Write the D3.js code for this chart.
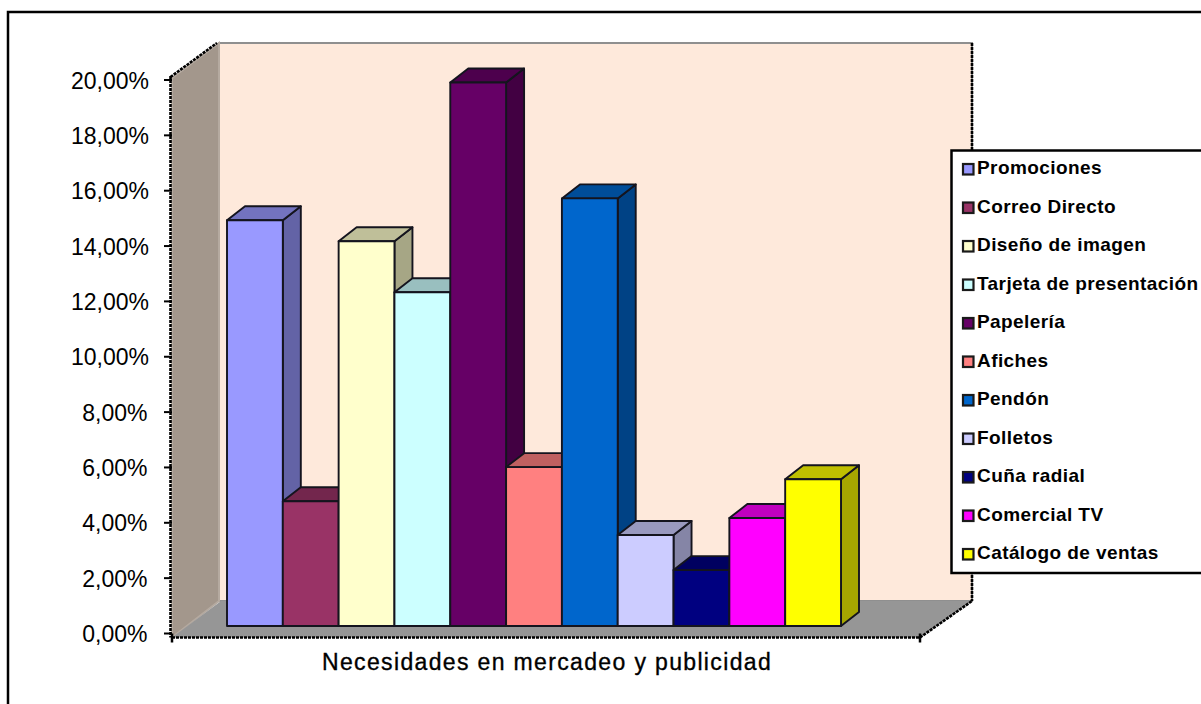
<!DOCTYPE html>
<html>
<head>
<meta charset="utf-8">
<script src="https://cdn.jsdelivr.net/npm/d3@7"></script>
<style>
html,body{margin:0;padding:0;background:#fff}
svg{display:block}
text{font-family:"Liberation Sans",Arial,sans-serif;fill:#000}
</style>
</head>
<body>
<svg id="chart" width="1201" height="704"></svg>
<script>
// Share of each marketing and advertising need, in percent
const categories = ["Promociones","Correo Directo","Diseño de imagen","Tarjeta de presentación","Papelería","Afiches","Pendón","Folletos","Cuña radial","Comercial TV","Catálogo de ventas"];
const shares = [14.66,4.51,13.9,12.06,19.64,5.74,15.45,3.29,2.02,3.9,5.3];
const barColors = ["#9999FF","#993366","#FFFFCC","#CCFFFF","#660066","#FF8080","#0066CC","#CCCCFF","#000080","#FF00FF","#FFFF00"];
const yTicks = [0,2,4,6,8,10,12,14,16,18,20];
const axisTitle = "Necesidades en mercadeo y publicidad";

const svg = d3.select("#chart");
const shade = (c, k) => { const r = d3.rgb(c); return d3.rgb(r.r*k, r.g*k, r.b*k).formatHex(); };
const fmtTick = v => v.toFixed(2).replace(".", ",") + "%";

// Oblique projection: the front plane of the box, and the shift to its back plane
const y = d3.scaleLinear().domain([0,20]).range([633.5,80]);
const frontLeft = 172, frontRight = 920, floorFront = 637.5;
const wallTop = 43, wallBottom = 601;
const x = d3.scaleBand().domain(categories).range([227,841]);
const barShift = -7.5;            // bars stand a little behind the front plane
const depthX = 18, depthY = -14;  // extrusion of each bar

// Outer frame
svg.append("rect").attr("x",8).attr("y",12).attr("width",1300).attr("height",800)
  .attr("fill","#fff").attr("stroke","#000").attr("stroke-width",2.5);

// Walls and floor
const wallRight = 972;
const poly = (pts, fill, stroke) => svg.append("polygon")
  .attr("points", pts.map(p => p.join(",")).join(" ")).attr("fill", fill)
  .attr("stroke", stroke || "none").attr("stroke-width", 2);
poly([[219,wallTop],[wallRight,wallTop],[wallRight,wallBottom],[219,wallBottom]], "#FEE9DB", "#8f8f8f");
poly([[frontLeft,78],[219,wallTop],[219,wallBottom],[frontLeft,floorFront]], "#A3978C", "#b5aaa0");
poly([[frontLeft,floorFront],[221,wallBottom],[wallRight,wallBottom],[frontRight,floorFront]], "#969696");

// Dotted box edges
const edge = (x1,y1,x2,y2) => svg.append("line").attr("x1",x1).attr("y1",y1).attr("x2",x2).attr("y2",y2)
  .attr("stroke","#000").attr("stroke-width",2.6).attr("stroke-dasharray","3 1");
edge(170.5,76,170.5,floorFront);
edge(170.5,77,217,wallTop);
edge(frontLeft,floorFront,frontRight,floorFront);
edge(frontRight,floorFront,wallRight,wallBottom);
edge(wallRight,wallTop,wallRight,wallBottom);

// Value axis
const yAxis = svg.append("g");
yAxis.selectAll("line").data(yTicks).join("line")
  .attr("x1",164).attr("x2",frontLeft).attr("y1",d=>y(d)).attr("y2",d=>y(d))
  .attr("stroke","#000").attr("stroke-width",2);
yAxis.selectAll("text").data(yTicks).join("text")
  .attr("x",d=>d>=10?149:147.5).attr("y",d=>y(d)+8.5).attr("text-anchor","end").attr("font-size",23)
  .text(fmtTick);
[frontLeft,frontRight].forEach(px => svg.append("line")
  .attr("x1",px).attr("x2",px).attr("y1",floorFront-4).attr("y2",floorFront+5)
  .attr("stroke","#000").attr("stroke-width",2.5));

// Bars, painted left to right so each one overlaps the side of its neighbour
const bars = svg.append("g").attr("stroke","#14141e").attr("stroke-width",1.9).attr("stroke-linejoin","round");
categories.forEach((c,i) => {
  const x0 = x(c), x1 = x0 + x.bandwidth();
  const top = y(shares[i]) + barShift, base = y(0) + barShift;
  const g = bars.append("g");
  const pts = a => a.map(p => p.join(",")).join(" ");
  g.append("polygon").attr("fill",shade(barColors[i],0.65))
    .attr("points",pts([[x1,top],[x1+depthX,top+depthY],[x1+depthX,base+depthY],[x1,base]]));
  g.append("polygon").attr("fill",shade(barColors[i],0.75))
    .attr("points",pts([[x0,top],[x0+depthX,top+depthY],[x1+depthX,top+depthY],[x1,top]]));
  g.append("rect").attr("x",x0).attr("y",top).attr("width",x.bandwidth()).attr("height",base-top)
    .attr("fill",barColors[i]);
});

// Axis title
svg.append("text").attr("x",322).attr("y",669.5)
  .attr("font-size",23).attr("letter-spacing",1.35)
  .attr("stroke","#000").attr("stroke-width",0.35).text(axisTitle);

// Legend
svg.append("rect").attr("x",951.5).attr("y",150.5).attr("width",300).attr("height",422.5)
  .attr("fill","#fff").attr("stroke","#000").attr("stroke-width",2.5);
const rowY = d3.scaleLinear().domain([0,categories.length-1]).range([168,553]);
const rows = svg.append("g").selectAll("g").data(categories).join("g")
  .attr("transform",(d,i)=>`translate(0,${rowY(i)})`);
rows.append("rect").attr("x",963).attr("y",-4).attr("width",10.5).attr("height",10.5)
  .attr("fill",(d,i)=>barColors[i]).attr("stroke","#1a1a1a").attr("stroke-width",2.2);
rows.append("text").attr("x",977).attr("y",6.3).attr("font-size",19).attr("font-weight","bold")
  .attr("letter-spacing",0.42).text(d=>d);
</script>
</body>
</html>
